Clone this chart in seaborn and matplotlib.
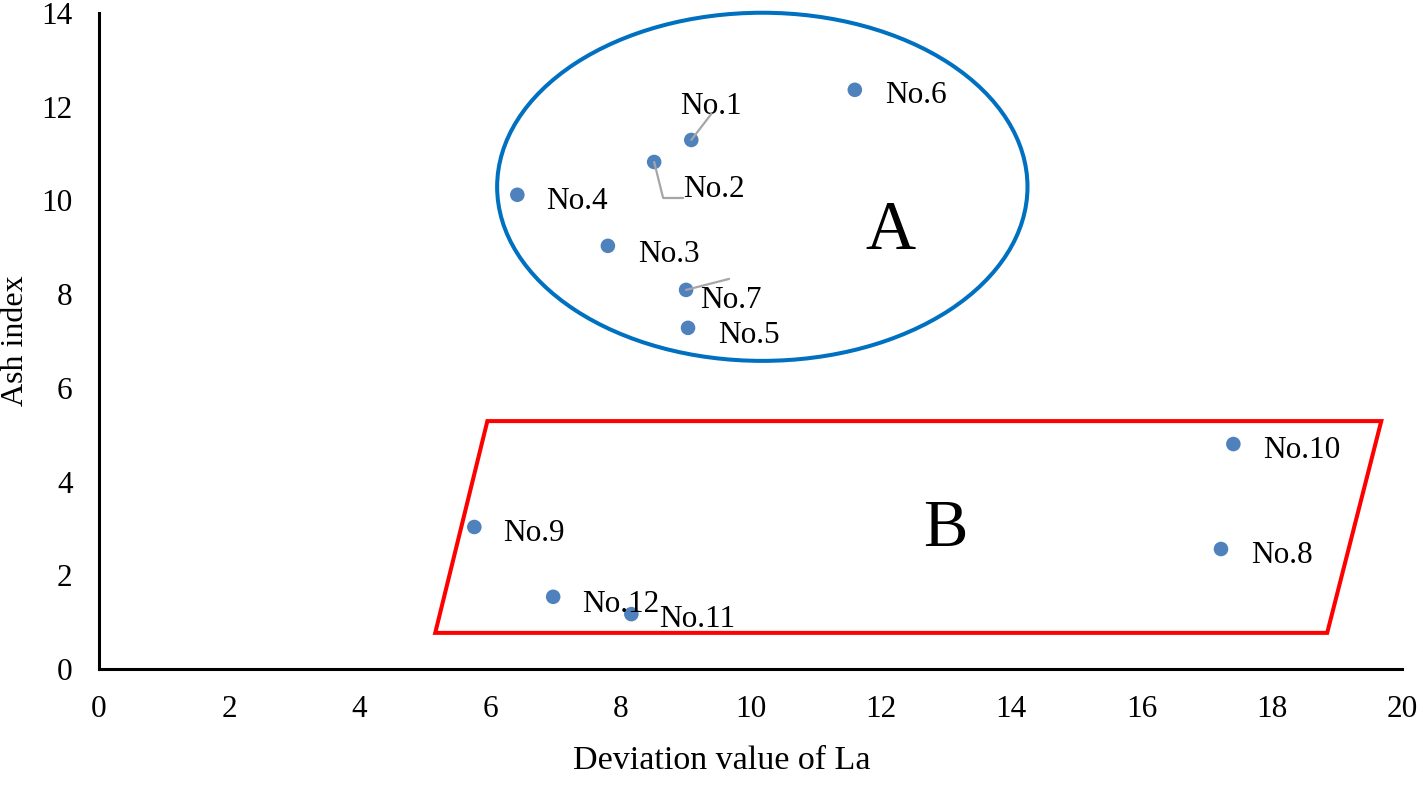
import matplotlib
matplotlib.use("Agg")
import matplotlib.pyplot as plt
from matplotlib.patches import Ellipse, Polygon
import seaborn as sns
import pandas as pd

# values
samples = ["No.1", "No.2", "No.3", "No.4", "No.5", "No.6",
           "No.7", "No.8", "No.9", "No.10", "No.11", "No.12"]
la_dev = [9.09, 8.52, 7.81, 6.42, 9.04, 11.60, 9.01, 17.22, 5.76, 17.41, 8.17, 6.97]
ash_idx = [11.29, 10.82, 9.03, 10.12, 7.28, 12.36, 8.09, 2.56, 3.03, 4.80, 1.17, 1.54]

# label offsets in pixels (dx right, dy up) of the text baseline-left corner
label_off = {
    "No.1": (-11, 26), "No.2": (29, -35), "No.3": (30, -16), "No.4": (29, -14),
    "No.5": (30, -15), "No.6": (30, -13), "No.7": (14, -18), "No.8": (30, -14),
    "No.9": (29, -14), "No.10": (30, -14), "No.11": (28, -13), "No.12": (29, -15),
}

# group outlines
ell_center = (10.18, 10.29)
ell_w, ell_h = 8.14, 7.43
para_x = [5.16, 5.96, 19.68, 18.85]
para_y = [0.77, 5.29, 5.29, 0.77]

df = pd.DataFrame({"la": la_dev, "ash": ash_idx, "name": samples})

sns.set_style("white")
plt.rcParams["font.family"] = ["Liberation Serif", "DejaVu Serif"]
for k in ["text.color", "axes.labelcolor", "xtick.color", "ytick.color"]:
    plt.rcParams[k] = "black"

fig = plt.figure(figsize=(14.19, 7.87), dpi=100)
ax = fig.add_axes([0.0698, 0.150, 0.9183, 0.8335])

sns.scatterplot(data=df, x="la", y="ash", color="#4F81BD", s=110,
                edgecolor="none", ax=ax, zorder=3)

for _, r in df.iterrows():
    dx, dy = label_off[r["name"]]
    ax.annotate(r["name"], (r["la"], r["ash"]), xytext=(dx, dy),
                textcoords="offset pixels", ha="left", va="baseline",
                fontsize=22.5, color="black")

# leader lines
grey = "#A6A6A6"
i1 = samples.index("No.1")
ax.annotate("", (la_dev[i1], ash_idx[i1]), xytext=(20, 26), textcoords="offset pixels",
            arrowprops=dict(arrowstyle="-", color=grey, lw=1.6, shrinkA=0, shrinkB=0))
i2 = samples.index("No.2")
ax.annotate("", (la_dev[i2], ash_idx[i2]), xytext=(29, -36), textcoords="offset pixels",
            arrowprops=dict(arrowstyle="-", color=grey, lw=1.6, shrinkA=0, shrinkB=0,
                            connectionstyle="angle,angleA=0,angleB=-76,rad=0"))
i7 = samples.index("No.7")
ax.annotate("", (la_dev[i7], ash_idx[i7]), xytext=(43, 11), textcoords="offset pixels",
            arrowprops=dict(arrowstyle="-", color=grey, lw=1.6, shrinkA=0, shrinkB=0))

ax.add_patch(Ellipse(ell_center, ell_w, ell_h, fill=False, ec="#0070C0", lw=2.9,
                     clip_on=False, zorder=2))
ax.add_patch(Polygon(list(zip(para_x, para_y)), closed=True, fill=False, ec="#FF0000",
                     lw=2.9, clip_on=False, zorder=2))

ax.text(12.14, 9.31, "A", fontsize=50, ha="center", va="center")
ax.text(12.99, 2.98, "B", fontsize=48, ha="center", va="center")

ax.set_xlim(0, 20)
ax.set_ylim(0, 14)
ax.set_xticks(range(0, 21, 2))
ax.set_yticks(range(0, 15, 2))
ax.tick_params(length=0, labelsize=22.5, pad=19)
for s in ["top", "right"]:
    ax.spines[s].set_visible(False)
for s in ["left", "bottom"]:
    ax.spines[s].set_linewidth(2.2)
    ax.spines[s].set_color("black")

ax.set_xlabel("Deviation value of La", fontsize=24.5)
ax.set_ylabel("Ash index", fontsize=23, labelpad=8)
ax.xaxis.set_label_coords(0.478, -0.116)

fig.savefig("out.png", dpi=100)
